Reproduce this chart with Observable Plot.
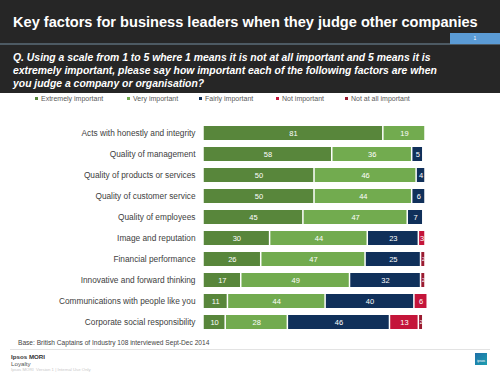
<!DOCTYPE html>
<html>
<head>
<meta charset="utf-8">
<script src="https://cdn.jsdelivr.net/npm/d3@7"></script>
<script src="https://cdn.jsdelivr.net/npm/@observablehq/plot@0.6"></script>
<style>
  html, body { margin:0; padding:0; background:#fff; }
  #page { position:relative; width:500px; height:375px; overflow:hidden; font-family:"Liberation Sans", Arial, sans-serif; background:#fff; }
  .abs { position:absolute; white-space:nowrap; }
  #header { position:absolute; left:0; top:0; width:500px; height:93px; background:#262626; }
  #title { left:13px; top:14px; color:#fff; font-weight:bold; font-size:14.6px; }
  #rule { position:absolute; left:0; top:43px; width:500px; height:2px; background:#4d5a63; }
  #tab { position:absolute; left:450px; top:33px; width:50px; height:11px; background:#5b9bd5; color:#fff; font-size:5px; text-align:center; line-height:11px; }
  #question { left:13px; top:51px; color:#fff; font-weight:bold; font-style:italic; font-size:10.4px; line-height:13px; }
  .leg { position:absolute; top:95px; font-size:7px; color:#595959; line-height:8px; }
  .leg span.m { display:inline-block; width:3px; height:3px; margin-right:3px; vertical-align:1px; }
  #chart { position:absolute; left:0; top:105px; }
  #base { left:18px; top:339px; font-size:6.6px; color:#444; }
  #frule { position:absolute; left:10px; top:349px; width:480px; height:1px; background:#e3e3e3; }
  #ipsos { left:11px; top:353px; font-size:6.2px; font-weight:bold; color:#333; }
  #loyal { left:11px; top:360px; font-size:6.2px; color:#555; }
  #tiny { left:11px; top:367px; font-size:4.3px; color:#c8c8c8; }
  #logo { position:absolute; left:475px; top:353px; width:12px; height:12px; background:linear-gradient(135deg,#1f6fa8,#1d9fb0); color:#fff; font-size:3.5px; text-align:center; line-height:16px; }
</style>
</head>
<body>
<div id="page">
  <div id="header"></div>
  <div class="abs" id="title">Key factors for business leaders when they judge other companies</div>
  <div id="rule"></div>
  <div id="tab">1</div>
  <div class="abs" id="question">Q. Using a scale from 1 to 5 where 1 means it is not at all important and 5 means it is<br>extremely important, please say how important each of the following factors are when<br>you judge a company or organisation?</div>
  <div id="legend"></div>
  <div id="chart"></div>
  <div class="abs" id="base">Base: British Captains of Industry 108 interviewed Sept-Dec 2014</div>
  <div id="frule"></div>
  <div class="abs" id="ipsos">Ipsos MORI</div>
  <div class="abs" id="loyal">Loyalty</div>
  <div class="abs" id="tiny">Ipsos MORI &nbsp;Version 1 | Internal Use Only</div>
  <div id="logo">ipsos</div>
</div>
<script>
const categories = [
  "Acts with honestly and integrity",
  "Quality of management",
  "Quality of products or services",
  "Quality of customer service",
  "Quality of employees",
  "Image and reputation",
  "Financial performance",
  "Innovative and forward thinking",
  "Communications with people like you",
  "Corporate social responsibility"
];
const series = ["Extremely important", "Very important", "Fairly important", "Not important", "Not at all important"];
const extremelyImportant = [81, 58, 50, 50, 45, 30, 26, 17, 11, 10];
const veryImportant      = [19, 36, 46, 44, 47, 44, 47, 49, 44, 28];
const fairlyImportant    = [0, 5, 4, 6, 7, 23, 25, 32, 40, 46];
const notImportant       = [0, 0, 0, 0, 0, 3, 0, 0, 6, 13];
const notAtAllImportant  = [0, 0, 0, 0, 0, 0, 2, 2, 0, 2];
const seriesColors = ["#58863b", "#72ab4f", "#10305a", "#c4153a", "#9b1b30"];
const legendX = [35, 127, 199, 276, 345];

const valuesBySeries = [extremelyImportant, veryImportant, fairlyImportant, notImportant, notAtAllImportant];
const data = [];
series.forEach((s, si) => {
  categories.forEach((c, ci) => {
    const v = valuesBySeries[si][ci];
    if (v > 0) data.push({category: c, series: s, value: v});
  });
});

// legend
const legend = document.getElementById("legend");
series.forEach((s, i) => {
  const d = document.createElement("div");
  d.className = "leg";
  d.style.left = legendX[i] + "px";
  d.innerHTML = `<span class="m" style="background:${seriesColors[i]}"></span>${s}`;
  legend.appendChild(d);
});

const chart = Plot.plot({
  width: 500,
  height: 235,
  marginLeft: 203,
  marginRight: 75,
  marginTop: 10,
  marginBottom: 0,
  style: {fontFamily: "Liberation Sans, Arial, sans-serif", background: "transparent"},
  x: {domain: [0, 100], axis: null},
  y: {domain: categories, padding: 0.312, label: null, axis: null},
  color: {domain: series, range: seriesColors},
  marks: [
    Plot.barX(data, {x: "value", y: "category", fill: "series", insetLeft: 0.75, insetRight: 0.75}),
    Plot.text(data, Plot.stackX({
      x: "value", y: "category", z: "series",
      text: d => String(d.value),
      fill: "white",
      fontSize: d => d.value <= 2 ? 5 : 7.5
    })),
    Plot.axisY({tickSize: 0, tickPadding: 8, fontSize: 8.3, color: "#404040", label: null})
  ]
});
document.getElementById("chart").appendChild(chart);
</script>
</body>
</html>
